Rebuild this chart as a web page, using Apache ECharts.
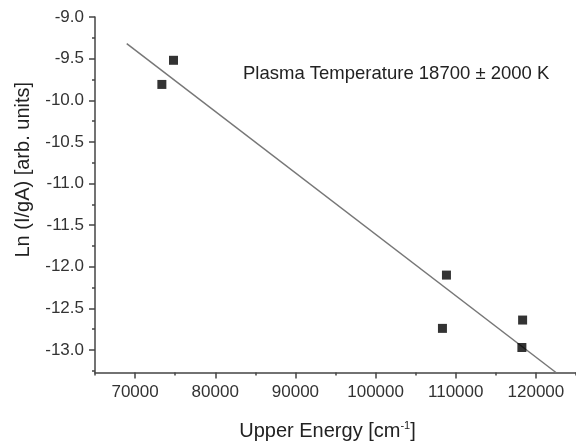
<!DOCTYPE html>
<html>
<head>
<meta charset="utf-8">
<script src="https://cdn.jsdelivr.net/npm/echarts@6/dist/echarts.min.js"></script>
<style>
html,body{margin:0;padding:0;background:#fff;}
#main{width:576px;height:446px;}
</style>
</head>
<body>
<div id="main"></div>
<script>
// measured points (upper energy, ln(I/gA))
var energy = [73340, 74790, 108340, 108840, 118250, 118340];
var lnI = [-9.81, -9.52, -12.74, -12.10, -12.97, -12.64];
// fitted line ends
var fitX = [68960, 122500];
var fitY = [-9.32, -13.27];
var xMajor = [70000, 80000, 90000, 100000, 110000, 120000];
var yMajor = [-13.0, -12.5, -12.0, -11.5, -11.0, -10.5, -10.0, -9.5, -9.0];
var yMinor = [-13.25, -12.75, -12.25, -11.75, -11.25, -10.75, -10.25, -9.75, -9.25];

var myChart = echarts.init(document.getElementById('main'));
var font = 'Liberation Sans, Arial, sans-serif';
var axisCol = '#444';

option = {
    backgroundColor: '#fff',
    animation: false,
    grid: {left: 95, right: 0, top: 17, bottom: 71},
    xAxis: [
        {
            type: 'value', min: 65000, max: 125000,
            name: 'Upper Energy [cm{sup|-1}]',
            nameLocation: 'middle', nameGap: 48,
            nameTextStyle: {
                fontFamily: font, fontSize: 20, color: '#222', padding: [0, 16, 0, 0],
                rich: {sup: {fontFamily: font, fontSize: 11, color: '#222', verticalAlign: 'top', padding: [0, 0, 10, 0]}}
            },
            axisLine: {lineStyle: {color: axisCol, width: 1.5}},
            axisTick: {customValues: xMajor, length: 6, lineStyle: {color: axisCol, width: 1.5}},
            axisLabel: {
                customValues: xMajor, margin: 11, fontFamily: font, fontSize: 17, color: '#333',
                formatter: function (v) { return String(v); }
            },
            splitLine: {show: false}
        },
        {
            type: 'value', min: 65000, max: 125000, interval: 5000, position: 'bottom',
            axisLine: {show: false},
            axisTick: {length: 3, lineStyle: {color: axisCol, width: 1.5}},
            axisLabel: {show: false},
            splitLine: {show: false}
        }
    ],
    yAxis: [
        {
            type: 'value', min: -13.27, max: -9.0,
            name: 'Ln (I/gA) [arb. units]',
            nameLocation: 'middle', nameGap: 62,
            nameTextStyle: {fontFamily: font, fontSize: 20, color: '#222', padding: [0, 0, 0, 50]},
            axisLine: {lineStyle: {color: axisCol, width: 1.5}},
            axisTick: {customValues: yMajor, length: 6, lineStyle: {color: axisCol, width: 1.5}},
            axisLabel: {
                customValues: yMajor, margin: 11, fontFamily: font, fontSize: 17, color: '#333',
                formatter: function (v) { return v.toFixed(1); }
            },
            splitLine: {show: false}
        },
        {
            type: 'value', min: -13.27, max: -9.0, position: 'left',
            axisLine: {show: false},
            axisTick: {customValues: yMinor, length: 3, lineStyle: {color: axisCol, width: 1.5}},
            axisLabel: {show: false},
            splitLine: {show: false}
        }
    ],
    graphic: [{
        type: 'text', left: 243, top: 64,
        style: {text: 'Plasma Temperature 18700 \u00b1 2000 K', fontFamily: font, fontSize: 18.5, fill: '#222'}
    }],
    series: [
        {
            type: 'line',
            data: fitX.map(function (x, i) { return [x, fitY[i]]; }),
            symbol: 'none',
            lineStyle: {color: '#777', width: 1.5},
            z: 2
        },
        {
            type: 'scatter',
            data: energy.map(function (x, i) { return [x, lnI[i]]; }),
            symbol: 'rect', symbolSize: 9,
            itemStyle: {color: '#000'},
            z: 3
        }
    ]
};

myChart.setOption(option);
</script>
</body>
</html>
